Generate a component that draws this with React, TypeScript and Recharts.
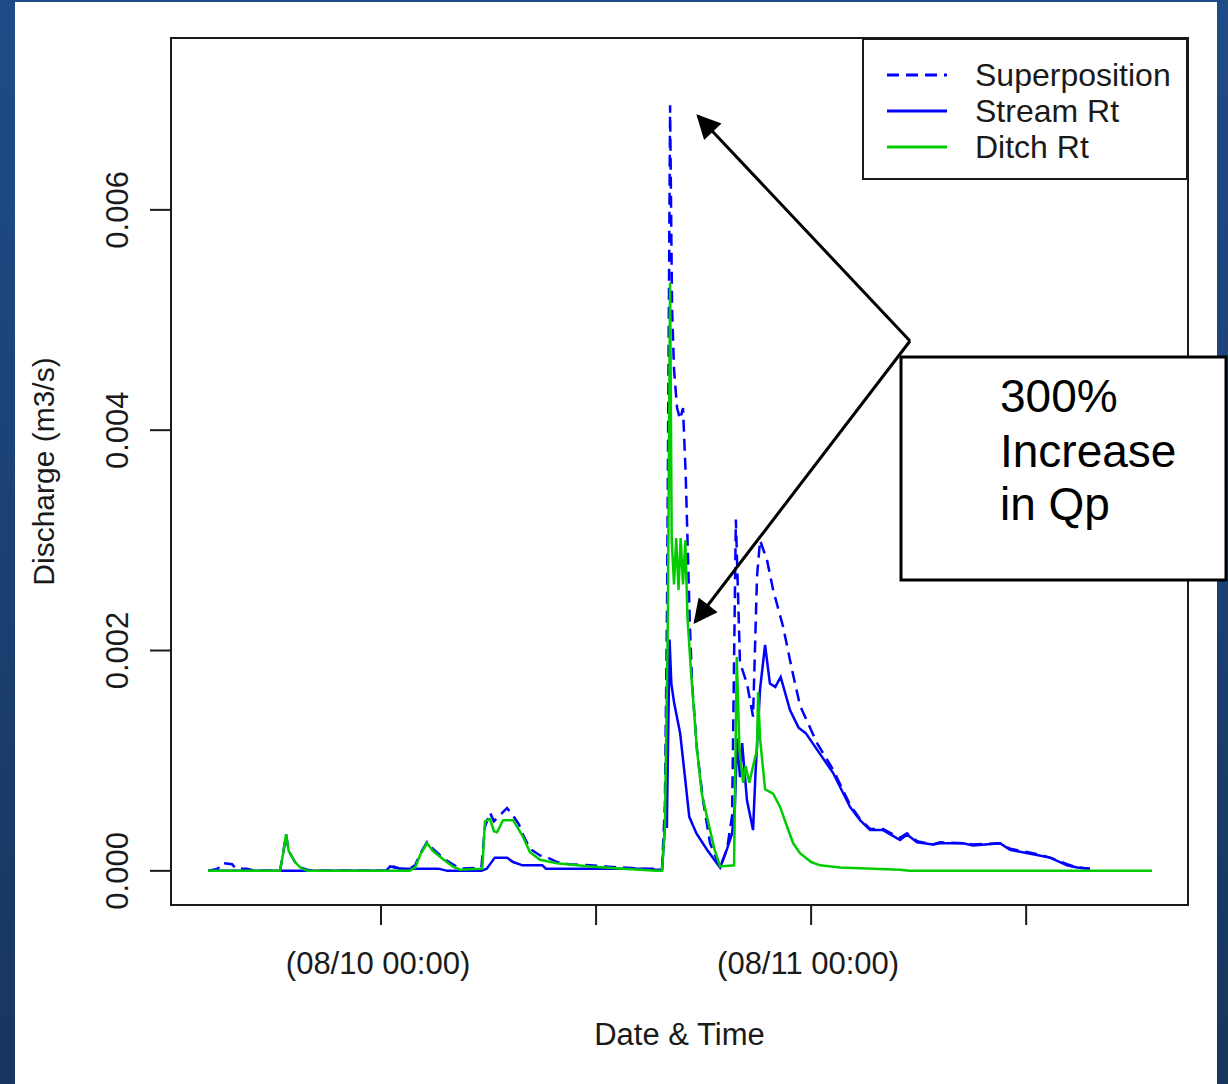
import { LineChart, Line, XAxis, YAxis, Legend, ReferenceArea } from "recharts"

// time in hours from 08/09 00:00, discharge in m3/s
const xTicks = [24, 36, 48, 60]
const xTickLabels = ["(08/10 00:00)", "", "(08/11 00:00)", ""]
const yTicks = [0, 0.002, 0.004, 0.006]
const xDomain = [12.28, 69.03]
const yDomain = [-0.00031, 0.00756]

const superposition: [number, number][] = [
  [14.35, 0], [14.9, 0.00002], [15.13, 0.00007], [15.69, 0.00006], [15.9, 0.00002], [16.5, 0.00002],
  [17.0, 0], [18.36, 0], [18.5, 0.00012], [18.7, 0.00033], [18.85, 0.00018], [19.2, 0.00008],
  [19.5, 0.00003], [19.87, 0.00001], [20.2, 0], [24.3, 0], [24.5, 0.00005], [25.06, 0.00002],
  [25.6, 0.00002], [25.9, 0.00005], [26.2, 0.00016], [26.57, 0.00026], [26.9, 0.0002], [27.5, 0.00011],
  [28.0, 0.00006], [28.41, 0.00002], [29.6, 0.00003], [29.8, 0.0004], [30.08, 0.00053], [30.3, 0.00045],
  [30.47, 0.00048], [31.03, 0.00057], [31.37, 0.0005], [31.7, 0.00042], [31.92, 0.00033], [32.31, 0.0002],
  [32.87, 0.00014], [33.3, 0.00012], [33.82, 0.00008], [34.5, 0.00006], [35.66, 0.00005], [36.5, 0.00004],
  [37.5, 0.00003], [38.45, 0.00002], [39.68, 0.00002], [39.84, 0.0006], [39.96, 0.0024], [40.13, 0.00695],
  [40.24, 0.0051], [40.35, 0.00455], [40.52, 0.0042], [40.69, 0.0041], [40.85, 0.0042], [41.0, 0.0036],
  [41.24, 0.0022], [41.36, 0.0017], [41.63, 0.0011], [41.97, 0.00064], [42.36, 0.00025], [42.92, 0.00003],
  [43.31, 0.0002], [43.59, 0.0005], [43.8, 0.00319], [44.03, 0.00189], [44.42, 0.0017], [44.76, 0.0014],
  [44.98, 0.00267], [45.15, 0.003], [45.54, 0.00282], [45.88, 0.00255], [46.43, 0.00222], [46.94, 0.00182],
  [47.38, 0.0015], [48.33, 0.00116], [49.22, 0.00092], [50.17, 0.0006], [50.73, 0.00047], [51.29, 0.00038],
  [52.01, 0.00038], [52.96, 0.0003], [53.35, 0.00034], [53.91, 0.00027], [54.8, 0.00024], [55.19, 0.00026],
  [56.48, 0.00025], [57.04, 0.00024], [58.54, 0.00025], [59.1, 0.0002], [60.38, 0.00016], [61.33, 0.00012],
  [62.28, 0.00006], [62.84, 0.00003], [63.56, 0.00002],
]

const streamRt: [number, number][] = [
  [14.35, 0], [24.3, 0], [24.5, 0.00004], [25.06, 0.00002], [25.5, 0.00002], [26.0, 0.00002],
  [27.2, 0.00002], [27.7, 0], [29.6, 0], [29.9, 0.00002], [30.35, 0.00012], [31.03, 0.00012],
  [31.37, 0.00008], [31.9, 0.00005], [33.0, 0.00005], [33.2, 0.00002], [38.5, 0.00002], [39.3, 0.00001],
  [39.68, 0.00001], [39.84, 0.0004], [39.95, 0.0004], [40.1, 0.0021], [40.2, 0.0017], [40.35, 0.00153],
  [40.69, 0.00125], [40.96, 0.00085], [41.2, 0.00049], [41.6, 0.00034], [42.2, 0.00019], [42.92, 0.00003],
  [43.31, 0.0002], [43.59, 0.00034], [43.75, 0.0006], [43.87, 0.0012], [44.03, 0.00085], [44.15, 0.00116],
  [44.42, 0.00064], [44.76, 0.00037], [44.9, 0.0009], [45.15, 0.00165], [45.43, 0.00205], [45.7, 0.0017],
  [46.0, 0.00167], [46.3, 0.00176], [46.82, 0.00146], [47.3, 0.0013], [47.7, 0.00125], [48.33, 0.0011],
  [49.22, 0.00089], [50.17, 0.00058], [50.73, 0.00046], [51.29, 0.00037], [52.01, 0.00037], [52.96, 0.00028],
  [53.35, 0.00033], [53.91, 0.00026], [54.8, 0.00024], [55.19, 0.00025], [56.48, 0.00025], [57.04, 0.00023],
  [58.54, 0.00025], [59.1, 0.00019], [60.38, 0.00015], [61.33, 0.00012], [62.28, 0.00005], [62.84, 0.00003],
  [63.56, 0.00002],
]

const ditchRt: [number, number][] = [
  [14.35, 0], [18.36, 0], [18.5, 0.00012], [18.7, 0.00033], [18.85, 0.00018], [19.2, 0.00008],
  [19.5, 0.00003], [19.87, 0], [25.6, 0], [25.9, 0.00003], [26.2, 0.00015], [26.57, 0.00025],
  [26.9, 0.00018], [27.5, 0.0001], [28.0, 0.00004], [28.41, 0.00001], [29.65, 0.00002], [29.8, 0.00045],
  [30.08, 0.00047], [30.3, 0.00036], [30.47, 0.00035], [30.81, 0.00046], [31.37, 0.00046], [31.92, 0.00031],
  [32.31, 0.00017], [32.87, 0.0001], [33.82, 0.00007], [35.66, 0.00004], [37.5, 0.00002], [39.4, 0],
  [39.68, 0], [39.84, 0.0004], [40.0, 0.0022], [40.13, 0.00534], [40.22, 0.003], [40.35, 0.0026],
  [40.47, 0.00302], [40.6, 0.00255], [40.72, 0.00302], [40.85, 0.0026], [40.98, 0.003], [41.1, 0.0023],
  [41.3, 0.0018], [41.63, 0.0011], [41.9, 0.0007], [42.19, 0.00049], [42.6, 0.0002], [42.92, 0.00004],
  [43.7, 0.00005], [43.85, 0.00194], [44.0, 0.0011], [44.2, 0.0008], [44.35, 0.00095], [44.55, 0.0008],
  [44.76, 0.00095], [44.98, 0.0011], [45.04, 0.00162], [45.15, 0.0012], [45.43, 0.00074], [45.88, 0.0007],
  [46.27, 0.00058], [46.66, 0.0004], [47.0, 0.00025], [47.38, 0.00016], [48.0, 0.00008], [48.5, 0.00005],
  [49.61, 0.00003], [52.96, 0.00001], [53.5, 0], [67.02, 0],
]

const seriesNames = ["Superposition", "Stream Rt", "Ditch Rt"]
const seriesColors = ["#0000ff", "#0000ff", "#00cc00"]
const seriesDashes = ["12 7", undefined, undefined]

const font = "'Liberation Sans', Arial, sans-serif"
const ink = "#1a1a1a"

const toRows = (pts: [number, number][]) => pts.map(([t, q]) => ({ t, q }))

const XTick = ({ x, y, index }: any) => (
  <text x={x - 3} y={y + 47} textAnchor="middle" fontSize={31} fontFamily={font} fill={ink}>
    {xTickLabels[index]}
  </text>
)

const YTick = ({ x, y, payload }: any) => (
  <text
    x={x - 20}
    y={y}
    transform={`rotate(-90 ${x - 20} ${y})`}
    textAnchor="middle"
    fontSize={31}
    fontFamily={font}
    fill={ink}
  >
    {payload.value.toFixed(3)}
  </text>
)

const renderLegend = () => (
  <div
    style={{
      boxSizing: "border-box",
      width: 326,
      height: 142,
      border: `2px solid ${ink}`,
      background: "#fff",
      paddingTop: 17,
      paddingLeft: 23,
    }}
  >
    {seriesNames.map((name, i) => (
      <div key={name} style={{ display: "flex", alignItems: "center", height: 36 }}>
        <svg width={60} height={10} style={{ marginRight: 28 }}>
          <line x1={0} y1={5} x2={60} y2={5} stroke={seriesColors[i]} strokeWidth={3} strokeDasharray={seriesDashes[i]} />
        </svg>
        <span style={{ fontFamily: font, fontSize: 32, color: ink, lineHeight: "36px" }}>{name}</span>
      </div>
    ))}
  </div>
)

export default function App() {
  const series = [superposition, streamRt, ditchRt]
  return (
    <div
      style={{
        position: "absolute",
        left: 0,
        top: 0,
        width: 1228,
        height: 1084,
        overflow: "hidden",
        background: "linear-gradient(to bottom, #1f4c88, #17355e)",
      }}
    >
      <div style={{ position: "absolute", left: 15, top: 2, width: 1202, height: 1082, background: "#fff" }} />
      <div style={{ position: "absolute", left: 0, top: 0 }}>
        <LineChart width={1228} height={1084} margin={{ top: 38, right: 40, left: 0, bottom: 0 }}>
          <XAxis
            dataKey="t"
            type="number"
            domain={xDomain}
            ticks={xTicks}
            allowDataOverflow
            height={179}
            tickSize={20}
            axisLine={false}
            tickLine={{ stroke: ink, strokeWidth: 2 }}
            tick={<XTick />}
            label={({ viewBox }: any) => (
              <text
                x={viewBox.x + viewBox.width / 2}
                y={viewBox.y + 140}
                textAnchor="middle"
                fontSize={31}
                fontFamily={font}
                fill={ink}
              >
                Date &amp; Time
              </text>
            )}
          />
          <YAxis
            type="number"
            domain={yDomain}
            ticks={yTicks}
            allowDataOverflow
            width={171}
            tickSize={21}
            axisLine={false}
            tickLine={{ stroke: ink, strokeWidth: 2 }}
            tick={<YTick />}
            label={({ viewBox }: any) => {
              const cx = 54
              const cy = viewBox.y + viewBox.height / 2
              return (
                <text
                  x={cx}
                  y={cy}
                  transform={`rotate(-90 ${cx} ${cy})`}
                  textAnchor="middle"
                  fontSize={30}
                  fontFamily={font}
                  fill={ink}
                >
                  Discharge (m3/s)
                </text>
              )
            }}
          />
          <ReferenceArea
            x1={xDomain[0]}
            x2={xDomain[1]}
            y1={yDomain[0]}
            y2={yDomain[1]}
            fill="none"
            fillOpacity={0}
            stroke={ink}
            strokeWidth={2}
          />
          {series.map((pts, i) => (
            <Line
              key={seriesNames[i]}
              data={toRows(pts)}
              dataKey="q"
              name={seriesNames[i]}
              type="linear"
              stroke={seriesColors[i]}
              strokeWidth={2.5}
              strokeDasharray={seriesDashes[i]}
              dot={false}
              activeDot={false}
              isAnimationActive={false}
            />
          ))}
          <Legend
            layout="horizontal"
            verticalAlign="middle"
            align="center"
            content={renderLegend}
            wrapperStyle={{ position: "absolute", left: 862, top: 38, width: 326, height: 142 }}
          />
        </LineChart>
      </div>
      <svg
        width={1228}
        height={1084}
        style={{ position: "absolute", left: 0, top: 0, pointerEvents: "none" }}
      >
        <defs>
          <marker id="head" viewBox="0 0 10 10" refX="9" refY="5" markerWidth="9" markerHeight="8" orient="auto">
            <path d="M0,0 L10,5 L0,10 z" fill="#000" />
          </marker>
        </defs>
        <line x1={910} y1={341} x2={698} y2={116} stroke="#000" strokeWidth={3} markerEnd="url(#head)" />
        <line x1={910} y1={341} x2={695} y2={622} stroke="#000" strokeWidth={3} markerEnd="url(#head)" />
        <rect x={901} y={357} width={325} height={223} fill="#fff" stroke="#000" strokeWidth={3} />
        <text fontFamily={font} fontSize={46} fill="#000">
          <tspan x={1000} y={412}>300%</tspan>
          <tspan x={1000} y={467}>Increase</tspan>
          <tspan x={1000} y={520}>in Qp</tspan>
        </text>
      </svg>
    </div>
  )
}
